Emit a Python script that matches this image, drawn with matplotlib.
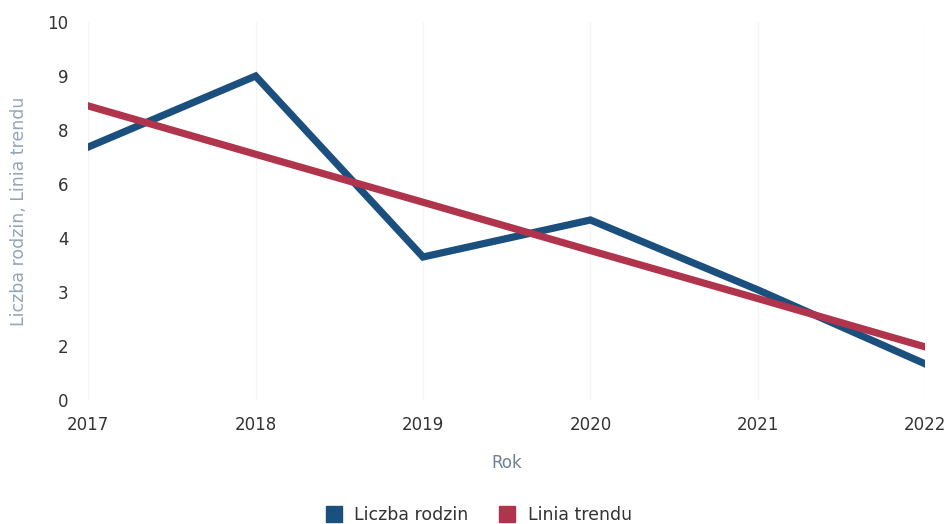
import matplotlib.pyplot as plt
from matplotlib.lines import Line2D

# data
years = [2017, 2018, 2019, 2020, 2021, 2022]
liczba_rodzin = [6.69, 8.57, 3.78, 4.76, 2.91, 0.95]
linia_trendu = [7.78, 6.50, 5.23, 3.95, 2.68, 1.40]
ytick_labels = ['0', '2', '3', '4', '6', '8', '9', '10']

blue = '#1b4f7e'
red = '#b0344c'

fig = plt.figure(figsize=(9.48, 5.24), dpi=100)
ax = fig.add_axes([0.093, 0.237, 0.883, 0.721])

ax.plot(years, liczba_rodzin, color=blue, lw=5.2, solid_joinstyle='miter', zorder=3)
ax.plot(years, linia_trendu, color=red, lw=5.2, zorder=4)

ax.set_xlim(2017, 2022)
ax.set_ylim(0, 10)
ax.set_xticks(years)
ax.set_yticks([i * 10 / 7 for i in range(8)])
ax.set_yticklabels(ytick_labels)
ax.tick_params(axis='both', length=0, labelsize=12, colors='#333333')
ax.tick_params(axis='x', pad=12)
ax.tick_params(axis='y', pad=14)
for s in ax.spines.values():
    s.set_visible(False)
ax.grid(axis='x', color='#f5f5f5', lw=1)
ax.set_axisbelow(True)

ax.set_xlabel('Rok', fontsize=12, color='#6f8193', labelpad=14)
ax.set_ylabel('Liczba rodzin, Linia trendu', fontsize=12.5, color='#93a6b7', labelpad=14)

handles = [Line2D([], [], color=blue, lw=0, marker='s', markersize=11),
           Line2D([], [], color=red, lw=0, marker='s', markersize=11)]
fig.legend(handles, ['Liczba rodzin', 'Linia trendu'], loc='lower center',
           bbox_to_anchor=(0.5, -0.03), ncol=2, frameon=False, fontsize=12.5,
           handletextpad=0.2, columnspacing=1.2, labelcolor='#333333')

fig.savefig('out.png', dpi=100)
